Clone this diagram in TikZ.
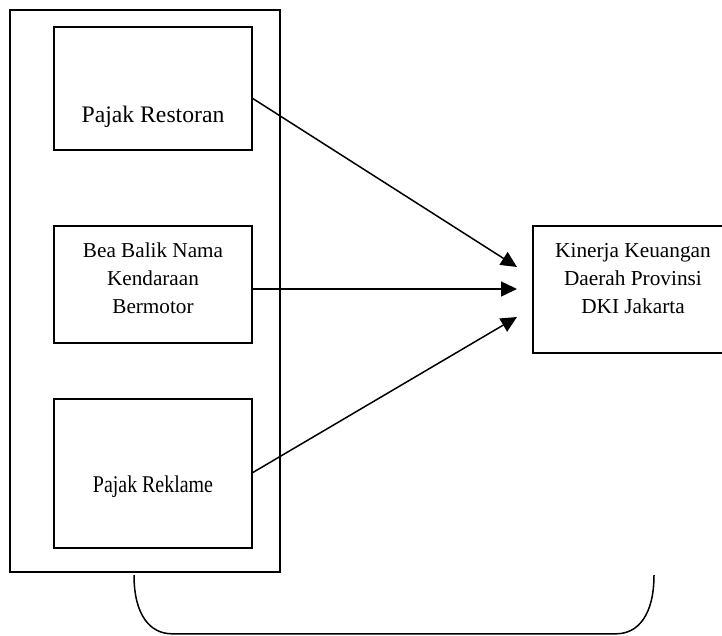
\documentclass[tikz,border=0pt]{standalone}
\usepackage{fontspec}
\setmainfont{Liberation Serif}
\newfontfamily\fA{Liberation Serif}
\newfontfamily\fD[FakeStretch=0.83]{Liberation Serif}
\usetikzlibrary{arrows.meta,calc}
\begin{document}
\begin{tikzpicture}[x=1pt,y=-1pt,
  boxst/.style={draw,line width=1.6pt,rectangle,inner sep=0pt,outer sep=0pt},
  txt/.style={inner sep=0pt,outer sep=0pt,align=center},
  arr/.style={line width=1.5pt,-{Triangle[length=16pt,width=15pt]}},
  brk/.style={line width=1.5pt}]
\useasboundingbox (0,0) rectangle (722,635);
% outer frame
\node[boxst,minimum width=270,minimum height=562] (outer) at (145,291) {};
% inner boxes
\node[boxst,minimum width=198,minimum height=123] (b1) at (153,88.5) {};
\node[boxst,minimum width=198,minimum height=117] (b2) at (153,284.5) {};
\node[boxst,minimum width=198,minimum height=149] (b3) at (153,473.5) {};
% result box (cut at right edge)
\node[boxst,minimum width=192,minimum height=127] (k) at (629,289.5) {};
% texts
\node[txt,anchor=base,font={\fontsize{23.7}{28}\selectfont\fA}] (t1) at (153,122) {Pajak Restoran};
\node[txt,anchor=base,font={\fontsize{21.2}{28}\selectfont\fA}] (t2) at (153,313) {Bea Balik Nama\\Kendaraan\\Bermotor};
\node[txt,anchor=base,font={\fontsize{21.3}{28}\selectfont\fA}] (tk) at (633,313) {Kinerja Keuangan\\Daerah Provinsi\\DKI Jakarta};
\node[txt,anchor=base,font={\fontsize{24}{28}\selectfont\fD}] (t3) at (153,492) {Pajak Reklame};
% arrows
\draw[arr] ($(b1.east)+(0,9.5)$) -- ($(k.west)+(-16,-22.5)$);
\draw[arr] ($(b2.east)+(0,4.5)$) -- ($(k.west)+(-16,-0.5)$);
\draw[arr] ($(b3.east)+(0,-0.5)$) -- ($(k.west)+(-16,27.5)$);
% bracket below
\coordinate (bl) at (134,575);
\coordinate (br) at (654,575);
\draw[brk] (bl) .. controls (134,615) and (150,633.8) .. (172,633.8) -- (616,633.8) .. controls (638,633.8) and (654,615) .. (br);
\end{tikzpicture}
\end{document}
